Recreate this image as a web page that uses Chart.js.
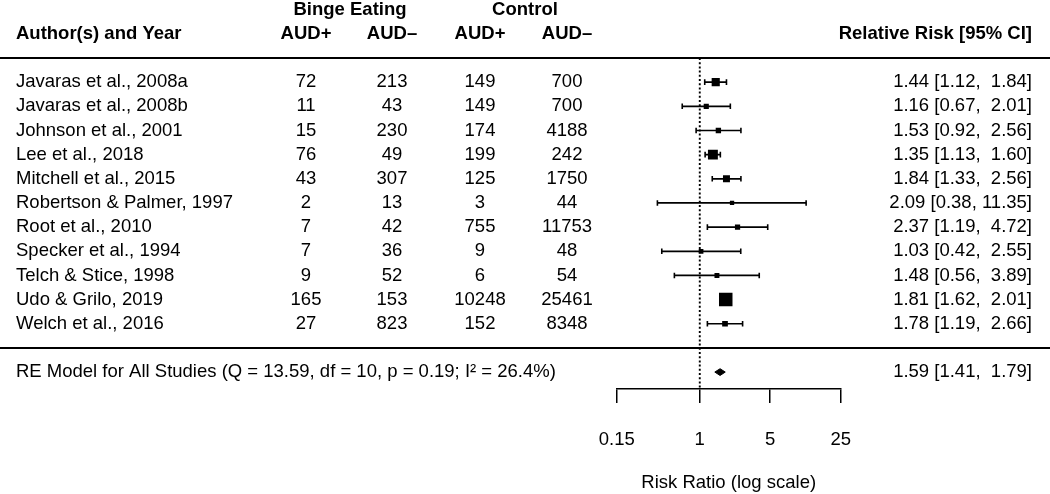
<!DOCTYPE html>
<html>
<head>
<meta charset="utf-8">
<title>Forest plot</title>
<script src="https://cdn.jsdelivr.net/npm/chart.js@4.4.1/dist/chart.umd.min.js"></script>
<style>
  html, body { margin: 0; padding: 0; background: #fff; }
  canvas { display: block; }
</style>
</head>
<body>
<canvas id="forest" width="1050" height="494"></canvas>
<script>
// study table
var studies = [
    "Javaras et al., 2008a", "Javaras et al., 2008b", "Johnson et al., 2001",
    "Lee et al., 2018", "Mitchell et al., 2015", "Robertson & Palmer, 1997",
    "Root et al., 2010", "Specker et al., 1994", "Telch & Stice, 1998",
    "Udo & Grilo, 2019", "Welch et al., 2016"
];
var bingeAudPos = [72, 11, 15, 76, 43, 2, 7, 7, 9, 165, 27];
var bingeAudNeg = [213, 43, 230, 49, 307, 13, 42, 36, 52, 153, 823];
var controlAudPos = [149, 149, 174, 199, 125, 3, 755, 9, 6, 10248, 152];
var controlAudNeg = [700, 700, 4188, 242, 1750, 44, 11753, 48, 54, 25461, 8348];

// risk ratios with 95% CI
var rr = [1.44, 1.16, 1.53, 1.35, 1.84, 2.09, 2.37, 1.03, 1.48, 1.81, 1.78];
var ciLow = [1.12, 0.67, 0.92, 1.13, 1.33, 0.38, 1.19, 0.42, 0.56, 1.62, 1.19];
var ciHigh = [1.84, 2.01, 2.56, 1.60, 2.56, 11.35, 4.72, 2.55, 3.89, 2.01, 2.66];
// study weights (%)
var weights = [14.0, 3.7, 4.4, 20.1, 10.0, 0.8, 4.0, 2.2, 2.9, 32.4, 5.6];

// random effects summary
var reEst = 1.59, reLow = 1.41, reHigh = 1.79;
var reQ = "13.59", reDf = "10", reP = "0.19", reI2 = "26.4%";

var xTicks = [0.15, 1, 5, 25];

var FONT = "'Liberation Sans', Arial, Helvetica, sans-serif";
var FS = 18.5;
var SUMMARY_ROW = 13;

function fmtCI(est, lo, hi) {
    return est.toFixed(2) + " [" + lo.toFixed(2).padStart(4, " ") + ", " +
        hi.toFixed(2).padStart(5, " ") + "]";
}

// box side length from weight
var wMin = Math.min.apply(null, weights), wMax = Math.max.apply(null, weights);
function boxRadius(w) {
    var side = 4.3 + (w - wMin) / (wMax - wMin) * 9.2;
    return side / Math.SQRT2;
}

var datasets = [];

// squares
datasets.push({
    type: "scatter",
    data: rr.map(function (v, i) { return { x: v, y: i + 1 }; }),
    pointStyle: "rect",
    pointRadius: weights.map(boxRadius),
    backgroundColor: "#000",
    borderWidth: 0,
    order: 0
});

// CI whiskers
studies.forEach(function (s, i) {
    datasets.push({
        type: "line",
        data: [{ x: ciLow[i], y: i + 1 }, { x: ciHigh[i], y: i + 1 }],
        borderColor: "#000",
        borderWidth: 1.7,
        pointStyle: "line",
        pointRotation: 90,
        pointRadius: 2.8,
        pointBorderWidth: 1.6,
        pointBorderColor: "#000",
        fill: false,
        order: 1
    });
});

// summary diamond
datasets.push({
    type: "line",
    data: [
        { x: reLow, y: SUMMARY_ROW },
        { x: reEst, y: SUMMARY_ROW - 0.14 },
        { x: reHigh, y: SUMMARY_ROW },
        { x: reEst, y: SUMMARY_ROW + 0.14 },
        { x: reLow, y: SUMMARY_ROW }
    ],
    borderColor: "#000",
    backgroundColor: "#000",
    borderWidth: 1,
    pointRadius: 0,
    fill: "shape",
    order: 0
});

// reference line at RR = 1
datasets.push({
    type: "line",
    data: [{ x: 1, y: 0 }, { x: 1, y: 13.7 }],
    borderColor: "#000",
    borderWidth: 1.9,
    borderDash: [2, 2.2],
    pointRadius: 0,
    fill: false,
    order: 2
});

var tablePlugin = {
    id: "forestTable",
    afterDraw: function (chart) {
        var ctx = chart.ctx;
        var y = chart.scales.y;
        var row = function (r) { return y.getPixelForValue(r); };
        var cols = [306, 392, 480, 567];

        ctx.save();
        ctx.fillStyle = "#000";
        ctx.textBaseline = "middle";

        // headers
        ctx.font = "bold " + FS + "px " + FONT;
        ctx.textAlign = "left";
        ctx.fillText("Author(s) and Year", 16, row(-1));
        ctx.textAlign = "center";
        ctx.fillText("Binge Eating", 350, row(-2));
        ctx.fillText("Control", 525, row(-2));
        ["AUD+", "AUD\u2013", "AUD+", "AUD\u2013"].forEach(function (h, k) {
            ctx.fillText(h, cols[k], row(-1));
        });
        ctx.textAlign = "right";
        ctx.fillText("Relative Risk [95% CI]", 1032, row(-1));

        // study rows
        ctx.font = FS + "px " + FONT;
        studies.forEach(function (s, i) {
            var py = row(i + 1);
            ctx.textAlign = "left";
            ctx.fillText(s, 16, py);
            ctx.textAlign = "center";
            [bingeAudPos, bingeAudNeg, controlAudPos, controlAudNeg].forEach(function (arr, k) {
                ctx.fillText(String(arr[i]), cols[k], py);
            });
            ctx.textAlign = "right";
            ctx.fillText(fmtCI(rr[i], ciLow[i], ciHigh[i]), 1032, py);
        });

        // summary row
        var sy = row(SUMMARY_ROW);
        ctx.textAlign = "left";
        ctx.fillText("RE Model for All Studies (Q = " + reQ + ", df = " + reDf +
            ", p = " + reP + "; I\u00B2 = " + reI2 + ")", 16, sy);
        ctx.textAlign = "right";
        ctx.fillText(fmtCI(reEst, reLow, reHigh), 1032, sy);

        // horizontal rules
        ctx.strokeStyle = "#000";
        ctx.lineWidth = 2;
        [0, 12].forEach(function (r) {
            var ly = Math.round(row(r));
            ctx.beginPath();
            ctx.moveTo(0, ly);
            ctx.lineTo(chart.width, ly);
            ctx.stroke();
        });
        ctx.restore();
    }
};

Chart.defaults.font.family = FONT;
Chart.defaults.color = "#000";

var chart = new Chart(document.getElementById("forest").getContext("2d"), {
    data: { datasets: datasets },
    options: {
        responsive: false,
        animation: false,
        layout: { padding: { left: 616.7, right: 209.3, top: 58, bottom: 0 } },
        plugins: {
            legend: { display: false },
            tooltip: { enabled: false }
        },
        scales: {
            x: {
                type: "logarithmic",
                position: "bottom",
                min: 0.15,
                max: 25,
                afterBuildTicks: function (scale) {
                    scale.ticks = xTicks.map(function (v) { return { value: v }; });
                },
                afterFit: function (scale) { scale.height = 105; },
                ticks: {
                    autoSkip: false,
                    maxRotation: 0,
                    padding: 26,
                    color: "#000",
                    font: { size: FS },
                    callback: function (v) { return String(v); }
                },
                grid: {
                    drawOnChartArea: false,
                    drawTicks: true,
                    tickLength: 14,
                    color: "#000",
                    lineWidth: 1.5
                },
                border: { display: true, color: "#000", width: 1.5 },
                title: {
                    display: true,
                    text: "Risk Ratio (log scale)",
                    color: "#000",
                    font: { size: FS },
                    padding: { top: 0, bottom: 0 }
                }
            },
            y: {
                type: "linear",
                display: false,
                reverse: true,
                min: 0,
                max: 13.7
            }
        }
    },
    plugins: [tablePlugin]
});
</script>
</body>
</html>
